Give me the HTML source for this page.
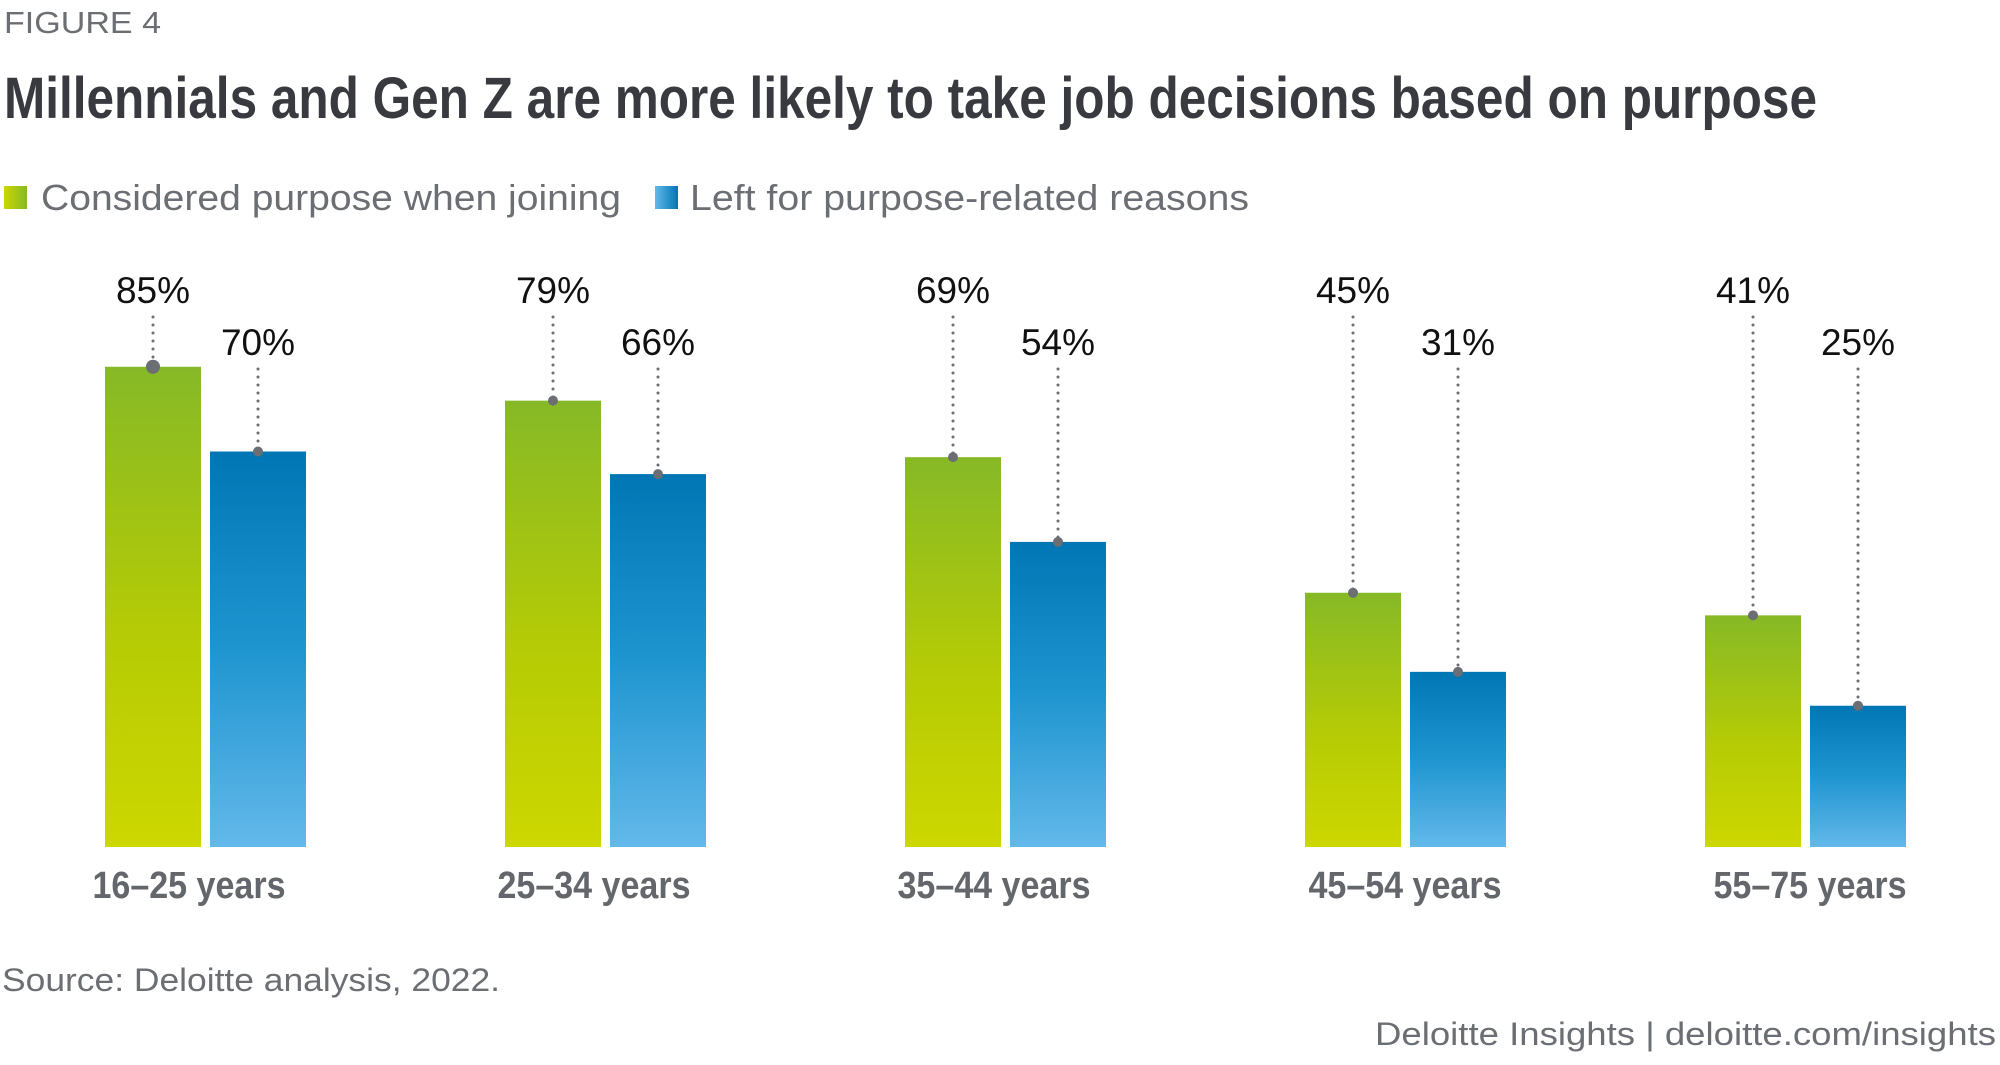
<!DOCTYPE html>
<html><head><meta charset="utf-8"><style>
html,body{margin:0;padding:0;background:#fff;}
svg{display:block;font-family:"Liberation Sans",sans-serif;}
</style></head><body>
<svg id="chart" width="2000" height="1065" viewBox="0 0 2000 1065">
<defs>
<linearGradient id="gGreen" x1="0" y1="0" x2="0" y2="1"><stop offset="0" stop-color="#86b927"/><stop offset="0.55" stop-color="#b5cb05"/><stop offset="1" stop-color="#cdd700"/></linearGradient>
<linearGradient id="gBlue" x1="0" y1="0" x2="0" y2="1"><stop offset="0" stop-color="#0076b4"/><stop offset="0.5" stop-color="#1f95d0"/><stop offset="1" stop-color="#63b8ea"/></linearGradient>
<linearGradient id="lgGreen" x1="0" y1="0" x2="1" y2="0"><stop offset="0" stop-color="#cdd700"/><stop offset="1" stop-color="#86b927"/></linearGradient>
<linearGradient id="lgBlue" x1="0" y1="0" x2="1" y2="0"><stop offset="0" stop-color="#63b8ea"/><stop offset="1" stop-color="#0076b4"/></linearGradient>
</defs>
<text x="4" y="33" font-size="31" fill="#6b6e73" textLength="157" lengthAdjust="spacingAndGlyphs">FIGURE 4</text>
<text x="4" y="118" font-size="58" font-weight="bold" fill="#393a3f" textLength="1813" lengthAdjust="spacingAndGlyphs">Millennials and Gen Z are more likely to take job decisions based on purpose</text>
<g>
<rect x="4" y="186" width="23" height="23" fill="url(#lgGreen)"/>
<text x="41" y="210" font-size="36" fill="#6b6e73" textLength="580" lengthAdjust="spacingAndGlyphs">Considered purpose when joining</text>
<rect x="655" y="186" width="23" height="23" fill="url(#lgBlue)"/>
<text x="690" y="210" font-size="36" fill="#6b6e73" textLength="559" lengthAdjust="spacingAndGlyphs">Left for purpose-related reasons</text>
</g>
<g id="plot"></g>
<text x="2" y="991" font-size="32" fill="#6b6e73" textLength="498" lengthAdjust="spacingAndGlyphs">Source: Deloitte analysis, 2022.</text>
<text x="1375" y="1045" font-size="32" font-weight="500" fill="#6b6e73" textLength="621" lengthAdjust="spacingAndGlyphs">Deloitte Insights | deloitte.com/insights</text>
</svg>
<script>
const categories = ["16–25 years","25–34 years","35–44 years","45–54 years","55–75 years"];
const joiningValues = [85,79,69,45,41];
const leftValues = [70,66,54,31,25];
const NS="http://www.w3.org/2000/svg";
const plot=document.getElementById('plot');
const baseY=847, perPt=5.65, groupStart=105, groupStep=400, barW=96, barGap=9;
function yScale(v){return baseY - v*perPt;}
function xGroup(i){return groupStart + i*groupStep;}
function mk(tag,attrs){const e=document.createElementNS(NS,tag);for(const k in attrs)e.setAttribute(k,attrs[k]);plot.appendChild(e);return e;}
function drawBar(i,v,offset,fill,labelY,name,big){
  const x=xGroup(i)+offset, y=yScale(v), cx=x+barW/2;
  const r=mk('rect',{x:x,y:y,width:barW,height:baseY-y,fill:fill});
  
  
  const l=mk('line',{x1:cx,y1:labelY+14,x2:cx,y2:y,stroke:'#6b6e73','stroke-width':3,'stroke-dasharray':'0 8','stroke-linecap':'round'});
  
  
  const d=mk('circle',{cx:cx,cy:y,r:big?7:5,fill:'#6b6e73'});
  
  
  const t=mk('text',{x:cx,y:labelY,'font-size':37,'text-anchor':'middle',fill:'#111'});
  t.textContent=v+'%';
  
  
}
const catCenters=[189,594,994,1405,1810];
categories.forEach((c,i)=>{
  drawBar(i,joiningValues[i],0,'url(#gGreen)',303,'joining',i===0);
  drawBar(i,leftValues[i],barW+barGap,'url(#gBlue)',355,'left',false);
  const t=mk('text',{x:catCenters[i],y:898,'font-size':38,'font-weight':'bold','text-anchor':'middle',fill:'#63666a',textLength:193,lengthAdjust:'spacingAndGlyphs'});
  t.textContent=c;
  
  
});
</script>
</body></html>
